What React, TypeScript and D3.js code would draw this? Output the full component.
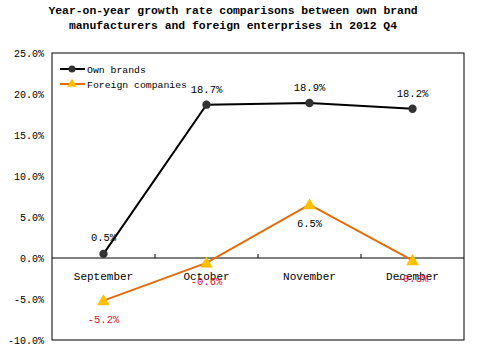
import * as d3 from "d3";

const months = ["September", "October", "November", "December"];
const ownBrands = [0.5, 18.7, 18.9, 18.2];
const foreignCompanies = [-5.2, -0.6, 6.5, -0.3];
const yTicks = [25, 20, 15, 10, 5, 0, -5, -10];
const titleLines = [
  "Year-on-year growth rate comparisons between own brand",
  "manufacturers and foreign enterprises in 2012 Q4",
];

const W = 477;
const H = 351;
const FONT = "'Liberation Mono', 'DejaVu Sans Mono', monospace";

export default function App() {
  const margin = { top: 53, right: 13, bottom: 11, left: 52 };
  const x = d3.scaleBand().domain(months).range([margin.left, W - margin.right]);
  const y = d3.scaleLinear().domain([-10, 25]).range([H - margin.bottom, margin.top]);
  const cx = (m: string) => (x(m) || 0) + x.bandwidth() / 2;

  const line = d3
    .line<number>()
    .x((_, i) => cx(months[i]))
    .y((d) => y(d));

  const tri = d3.symbol().type(d3.symbolTriangle).size(70);

  // label offsets as in the original (foreign labels sit under the points)
  const ownLabelDy = [-13, -12, -12, -12];
  const foreignLabelDy = [22, 22, 22, 22];

  return (
    <svg
      width={W}
      height={H}
      style={{ position: "absolute", left: 0, top: 0, background: "#fff" }}
      fontFamily={FONT}
    >
      {titleLines.map((t, i) => (
        <text
          key={t}
          x={233}
          y={14 + i * 15}
          textAnchor="middle"
          fontSize={11.4}
          fontWeight="bold"
        >
          {t}
        </text>
      ))}

      {/* frame */}
      <rect
        x={margin.left}
        y={margin.top}
        width={W - margin.left - margin.right}
        height={H - margin.top - margin.bottom}
        fill="none"
        stroke="#000"
      />

      {/* y axis labels */}
      {yTicks.map((t) => (
        <text key={t} x={44} y={y(t) + 3.5} textAnchor="end" fontSize={10}>
          {t.toFixed(1)}%
        </text>
      ))}

      {/* zero line + ticks */}
      <line x1={margin.left} x2={W - margin.right} y1={y(0)} y2={y(0)} stroke="#000" />
      {months.slice(1).map((m) => (
        <line key={m} x1={x(m)} x2={x(m)} y1={y(0)} y2={y(0) - 4} stroke="#000" />
      ))}

      {/* category labels */}
      {months.map((m) => (
        <text key={m} x={cx(m)} y={y(0) + 22} textAnchor="middle" fontSize={11}>
          {m}
        </text>
      ))}

      {/* own brands */}
      <path d={line(ownBrands) || ""} fill="none" stroke="#000" strokeWidth={2} />
      {ownBrands.map((v, i) => (
        <circle key={i} cx={cx(months[i])} cy={y(v)} r={4.2} fill="#333" />
      ))}
      {ownBrands.map((v, i) => (
        <text
          key={i}
          x={cx(months[i])}
          y={y(v) + ownLabelDy[i]}
          textAnchor="middle"
          fontSize={10.5}
        >
          {v.toFixed(1)}%
        </text>
      ))}

      {/* foreign companies */}
      <path d={line(foreignCompanies) || ""} fill="none" stroke="#e46c0a" strokeWidth={2} />
      {foreignCompanies.map((v, i) => (
        <path
          key={i}
          d={tri() || ""}
          transform={`translate(${cx(months[i])},${y(v) + 1})`}
          fill="#ffc000"
        />
      ))}
      {foreignCompanies.map((v, i) => (
        <text
          key={i}
          x={cx(months[i])}
          y={y(v) + foreignLabelDy[i]}
          textAnchor="middle"
          fontSize={10.5}
          fill={v < 0 ? "#e0142c" : "#000"}
        >
          {v.toFixed(1)}%
        </text>
      ))}

      {/* legend */}
      <g transform="translate(60,69)">
        <line x1={0} x2={25} y1={0} y2={0} stroke="#000" strokeWidth={2} />
        <circle cx={12} cy={0} r={3.5} fill="#333" />
        <text x={27} y={3.5} fontSize={9.8}>
          Own brands
        </text>
      </g>
      <g transform="translate(60,84)">
        <line x1={0} x2={25} y1={0} y2={0} stroke="#e46c0a" strokeWidth={2} />
        <path d={d3.symbol().type(d3.symbolTriangle).size(40)() || ""} transform="translate(12,0)" fill="#ffc000" />
        <text x={27} y={3.5} fontSize={9.8}>
          Foreign companies
        </text>
      </g>
    </svg>
  );
}
